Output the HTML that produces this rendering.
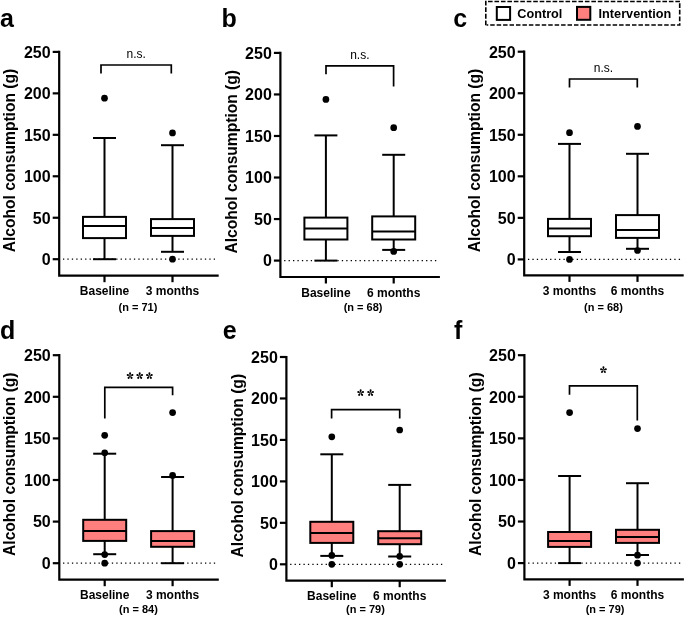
<!DOCTYPE html>
<html><head><meta charset="utf-8"><title>Alcohol consumption box plots</title>
<style>
html,body{margin:0;padding:0;background:#fff;}
body{width:685px;height:617px;overflow:hidden;}
svg{display:block;will-change:transform;}
text{font-family:"Liberation Sans",sans-serif;fill:#000;}
.pl{font-size:25px;font-weight:bold;}
.yl{font-size:15.6px;font-weight:bold;}
.yt{font-size:16px;font-weight:bold;}
.xt{font-size:12px;font-weight:bold;}
.nt{font-size:11px;font-weight:bold;}
.ns{font-size:12px;}
.st{font-size:22px;letter-spacing:2px;}
.lt{font-size:12.7px;font-weight:bold;}
.ax{stroke:#000;stroke-width:2.2;fill:none;}
.wh{stroke:#000;stroke-width:2.0;}
.bx{stroke:#000;stroke-width:2.0;}
.br{stroke:#000;stroke-width:1.7;fill:none;}
.dot0{stroke:#000;stroke-width:1.3;stroke-dasharray:1.3 3.135;}
.lg{fill:none;stroke:#000;stroke-width:1.6;}
circle{fill:#000;}
</style></head>
<body><svg width="685" height="617" viewBox="0 0 685 617">
<defs><g id="ast">
<path id="pt" d="M0,0.1 C-0.35,-0.7 -1.0,-1.75 -1.0,-2.45 A1.0,1.0 0 0 1 1.0,-2.45 C1.0,-1.75 0.35,-0.7 0,0.1 Z"/>
<use href="#pt" transform="rotate(77)"/><use href="#pt" transform="rotate(146) translate(0,-0.25)"/><use href="#pt" transform="rotate(214) translate(0,-0.25)"/><use href="#pt" transform="rotate(283)"/>
</g></defs>
<text class="pl" x="0" y="26.5">a</text>
<text class="yl" transform="translate(15.30,160.55) rotate(-90) scale(1,1.1)" text-anchor="middle">Alcohol consumption (g)</text>
<line class="dot0" x1="62.95" y1="259.20" x2="215.10" y2="259.20"/>
<line class="ax" x1="52.70" y1="259.20" x2="59.20" y2="259.20"/>
<text class="yt" x="50.60" y="265.00" text-anchor="end">0</text>
<line class="ax" x1="52.70" y1="217.74" x2="59.20" y2="217.74"/>
<text class="yt" x="50.60" y="223.54" text-anchor="end">50</text>
<line class="ax" x1="52.70" y1="176.28" x2="59.20" y2="176.28"/>
<text class="yt" x="50.60" y="182.08" text-anchor="end">100</text>
<line class="ax" x1="52.70" y1="134.82" x2="59.20" y2="134.82"/>
<text class="yt" x="50.60" y="140.62" text-anchor="end">150</text>
<line class="ax" x1="52.70" y1="93.36" x2="59.20" y2="93.36"/>
<text class="yt" x="50.60" y="99.16" text-anchor="end">200</text>
<line class="ax" x1="52.70" y1="51.90" x2="59.20" y2="51.90"/>
<text class="yt" x="50.60" y="57.70" text-anchor="end">250</text>
<path class="ax" d="M59.20,50.80 V275.70 H218.70" fill="none"/>
<line class="ax" x1="104.50" y1="275.70" x2="104.50" y2="282.20"/>
<line class="ax" x1="172.50" y1="275.70" x2="172.50" y2="282.20"/>
<text class="xt" x="104.50" y="295.30" text-anchor="middle">Baseline</text>
<text class="xt" x="172.50" y="295.30" text-anchor="middle">3 months</text>
<text class="nt" x="137.90" y="311.10" text-anchor="middle">(n = 71)</text>
<line class="wh" x1="104.50" y1="138.00" x2="104.50" y2="216.90"/>
<line class="wh" x1="104.50" y1="238.10" x2="104.50" y2="259.20"/>
<line class="wh" x1="93.00" y1="138.00" x2="116.00" y2="138.00"/>
<line class="wh" x1="93.00" y1="259.20" x2="116.00" y2="259.20"/>
<rect class="bx" x="83.00" y="216.90" width="43.00" height="21.20" fill="#fff"/>
<line class="wh" x1="83.00" y1="226.10" x2="126.00" y2="226.10"/>
<circle cx="104.50" cy="98.20" r="3.35"/>
<line class="wh" x1="172.50" y1="145.20" x2="172.50" y2="219.10"/>
<line class="wh" x1="172.50" y1="235.90" x2="172.50" y2="251.80"/>
<line class="wh" x1="161.00" y1="145.20" x2="184.00" y2="145.20"/>
<line class="wh" x1="161.00" y1="251.80" x2="184.00" y2="251.80"/>
<rect class="bx" x="151.00" y="219.10" width="43.00" height="16.80" fill="#fff"/>
<line class="wh" x1="151.00" y1="228.00" x2="194.00" y2="228.00"/>
<circle cx="172.50" cy="132.90" r="3.35"/>
<circle cx="172.50" cy="259.20" r="3.35"/>
<path class="br" d="M101.00,73.40 V65.00 H171.30 V73.40"/>
<text class="ns" transform="translate(136.15,57.80)" text-anchor="middle">n.s.</text>
<text class="pl" x="221.5" y="26.5">b</text>
<text class="yl" transform="translate(236.50,161.75) rotate(-90) scale(1,1.1)" text-anchor="middle">Alcohol consumption (g)</text>
<line class="dot0" x1="284.15" y1="260.60" x2="436.30" y2="260.60"/>
<line class="ax" x1="273.90" y1="260.60" x2="280.40" y2="260.60"/>
<text class="yt" x="271.80" y="266.40" text-anchor="end">0</text>
<line class="ax" x1="273.90" y1="219.06" x2="280.40" y2="219.06"/>
<text class="yt" x="271.80" y="224.86" text-anchor="end">50</text>
<line class="ax" x1="273.90" y1="177.52" x2="280.40" y2="177.52"/>
<text class="yt" x="271.80" y="183.32" text-anchor="end">100</text>
<line class="ax" x1="273.90" y1="135.98" x2="280.40" y2="135.98"/>
<text class="yt" x="271.80" y="141.78" text-anchor="end">150</text>
<line class="ax" x1="273.90" y1="94.44" x2="280.40" y2="94.44"/>
<text class="yt" x="271.80" y="100.24" text-anchor="end">200</text>
<line class="ax" x1="273.90" y1="52.90" x2="280.40" y2="52.90"/>
<text class="yt" x="271.80" y="58.70" text-anchor="end">250</text>
<path class="ax" d="M280.40,51.80 V277.00 H439.90" fill="none"/>
<line class="ax" x1="325.90" y1="277.00" x2="325.90" y2="283.50"/>
<line class="ax" x1="393.70" y1="277.00" x2="393.70" y2="283.50"/>
<text class="xt" x="325.90" y="296.60" text-anchor="middle">Baseline</text>
<text class="xt" x="393.70" y="296.60" text-anchor="middle">6 months</text>
<text class="nt" x="363.10" y="311.30" text-anchor="middle">(n = 68)</text>
<line class="wh" x1="325.90" y1="135.40" x2="325.90" y2="217.60"/>
<line class="wh" x1="325.90" y1="239.50" x2="325.90" y2="260.60"/>
<line class="wh" x1="314.40" y1="135.40" x2="337.40" y2="135.40"/>
<line class="wh" x1="314.40" y1="260.60" x2="337.40" y2="260.60"/>
<rect class="bx" x="304.40" y="217.60" width="43.00" height="21.90" fill="#fff"/>
<line class="wh" x1="304.40" y1="228.50" x2="347.40" y2="228.50"/>
<circle cx="325.90" cy="99.40" r="3.35"/>
<line class="wh" x1="393.70" y1="154.80" x2="393.70" y2="216.40"/>
<line class="wh" x1="393.70" y1="239.50" x2="393.70" y2="249.90"/>
<line class="wh" x1="382.20" y1="154.80" x2="405.20" y2="154.80"/>
<line class="wh" x1="382.20" y1="249.90" x2="405.20" y2="249.90"/>
<rect class="bx" x="372.20" y="216.40" width="43.00" height="23.10" fill="#fff"/>
<line class="wh" x1="372.20" y1="231.40" x2="415.20" y2="231.40"/>
<circle cx="393.70" cy="127.70" r="3.35"/>
<circle cx="393.70" cy="251.40" r="3.35"/>
<path class="br" d="M326.00,74.30 V65.90 H393.60 V86.40"/>
<text class="ns" transform="translate(359.80,59.00)" text-anchor="middle">n.s.</text>
<text class="pl" x="453.2" y="26.5">c</text>
<text class="yl" transform="translate(480.30,160.55) rotate(-90) scale(1,1.1)" text-anchor="middle">Alcohol consumption (g)</text>
<line class="dot0" x1="527.95" y1="259.40" x2="680.10" y2="259.40"/>
<line class="ax" x1="517.70" y1="259.40" x2="524.20" y2="259.40"/>
<text class="yt" x="515.60" y="265.20" text-anchor="end">0</text>
<line class="ax" x1="517.70" y1="217.86" x2="524.20" y2="217.86"/>
<text class="yt" x="515.60" y="223.66" text-anchor="end">50</text>
<line class="ax" x1="517.70" y1="176.32" x2="524.20" y2="176.32"/>
<text class="yt" x="515.60" y="182.12" text-anchor="end">100</text>
<line class="ax" x1="517.70" y1="134.78" x2="524.20" y2="134.78"/>
<text class="yt" x="515.60" y="140.58" text-anchor="end">150</text>
<line class="ax" x1="517.70" y1="93.24" x2="524.20" y2="93.24"/>
<text class="yt" x="515.60" y="99.04" text-anchor="end">200</text>
<line class="ax" x1="517.70" y1="51.70" x2="524.20" y2="51.70"/>
<text class="yt" x="515.60" y="57.50" text-anchor="end">250</text>
<path class="ax" d="M524.20,50.60 V275.40 H683.70" fill="none"/>
<line class="ax" x1="569.50" y1="275.40" x2="569.50" y2="281.90"/>
<line class="ax" x1="637.50" y1="275.40" x2="637.50" y2="281.90"/>
<text class="xt" x="569.50" y="295.00" text-anchor="middle">3 months</text>
<text class="xt" x="637.50" y="295.00" text-anchor="middle">6 months</text>
<text class="nt" x="603.40" y="311.10" text-anchor="middle">(n = 68)</text>
<line class="wh" x1="569.50" y1="143.90" x2="569.50" y2="218.90"/>
<line class="wh" x1="569.50" y1="236.20" x2="569.50" y2="252.00"/>
<line class="wh" x1="558.00" y1="143.90" x2="581.00" y2="143.90"/>
<line class="wh" x1="558.00" y1="252.00" x2="581.00" y2="252.00"/>
<rect class="bx" x="548.00" y="218.90" width="43.00" height="17.30" fill="#fff"/>
<line class="wh" x1="548.00" y1="228.60" x2="591.00" y2="228.60"/>
<circle cx="569.50" cy="132.70" r="3.35"/>
<circle cx="569.50" cy="259.40" r="3.35"/>
<line class="wh" x1="637.50" y1="153.80" x2="637.50" y2="215.10"/>
<line class="wh" x1="637.50" y1="237.90" x2="637.50" y2="248.80"/>
<line class="wh" x1="626.00" y1="153.80" x2="649.00" y2="153.80"/>
<line class="wh" x1="626.00" y1="248.80" x2="649.00" y2="248.80"/>
<rect class="bx" x="616.00" y="215.10" width="43.00" height="22.80" fill="#fff"/>
<line class="wh" x1="616.00" y1="229.90" x2="659.00" y2="229.90"/>
<circle cx="637.50" cy="126.40" r="3.35"/>
<circle cx="637.50" cy="250.50" r="3.35"/>
<path class="br" d="M569.50,87.40 V79.00 H637.30 V87.40"/>
<text class="ns" transform="translate(603.40,71.60)" text-anchor="middle">n.s.</text>
<text class="pl" x="0" y="338.5">d</text>
<text class="yl" transform="translate(15.40,464.20) rotate(-90) scale(1,1.1)" text-anchor="middle">Alcohol consumption (g)</text>
<line class="dot0" x1="63.05" y1="563.20" x2="215.20" y2="563.20"/>
<line class="ax" x1="52.80" y1="563.20" x2="59.30" y2="563.20"/>
<text class="yt" x="50.70" y="569.00" text-anchor="end">0</text>
<line class="ax" x1="52.80" y1="521.60" x2="59.30" y2="521.60"/>
<text class="yt" x="50.70" y="527.40" text-anchor="end">50</text>
<line class="ax" x1="52.80" y1="480.00" x2="59.30" y2="480.00"/>
<text class="yt" x="50.70" y="485.80" text-anchor="end">100</text>
<line class="ax" x1="52.80" y1="438.40" x2="59.30" y2="438.40"/>
<text class="yt" x="50.70" y="444.20" text-anchor="end">150</text>
<line class="ax" x1="52.80" y1="396.80" x2="59.30" y2="396.80"/>
<text class="yt" x="50.70" y="402.60" text-anchor="end">200</text>
<line class="ax" x1="52.80" y1="355.20" x2="59.30" y2="355.20"/>
<text class="yt" x="50.70" y="361.00" text-anchor="end">250</text>
<path class="ax" d="M59.30,354.10 V579.70 H218.80" fill="none"/>
<line class="ax" x1="104.70" y1="579.70" x2="104.70" y2="586.20"/>
<line class="ax" x1="172.60" y1="579.70" x2="172.60" y2="586.20"/>
<text class="xt" x="104.70" y="599.30" text-anchor="middle">Baseline</text>
<text class="xt" x="172.60" y="599.30" text-anchor="middle">3 months</text>
<text class="nt" x="138.40" y="612.60" text-anchor="middle">(n = 84)</text>
<line class="wh" x1="104.70" y1="453.70" x2="104.70" y2="519.80"/>
<line class="wh" x1="104.70" y1="540.90" x2="104.70" y2="554.20"/>
<line class="wh" x1="93.20" y1="453.70" x2="116.20" y2="453.70"/>
<line class="wh" x1="93.20" y1="554.20" x2="116.20" y2="554.20"/>
<rect class="bx" x="83.20" y="519.80" width="43.00" height="21.10" fill="#FF7F7F"/>
<line class="wh" x1="83.20" y1="531.00" x2="126.20" y2="531.00"/>
<circle cx="104.70" cy="435.30" r="3.35"/>
<circle cx="104.70" cy="452.80" r="3.35"/>
<circle cx="104.70" cy="554.60" r="3.35"/>
<circle cx="104.70" cy="563.20" r="3.35"/>
<line class="wh" x1="172.60" y1="477.00" x2="172.60" y2="531.10"/>
<line class="wh" x1="172.60" y1="546.80" x2="172.60" y2="563.20"/>
<line class="wh" x1="161.10" y1="477.00" x2="184.10" y2="477.00"/>
<line class="wh" x1="161.10" y1="563.20" x2="184.10" y2="563.20"/>
<rect class="bx" x="151.10" y="531.10" width="43.00" height="15.70" fill="#FF7F7F"/>
<line class="wh" x1="151.10" y1="541.00" x2="194.10" y2="541.00"/>
<circle cx="172.60" cy="412.60" r="3.35"/>
<circle cx="172.60" cy="475.40" r="3.35"/>
<path class="br" d="M104.80,418.50 V387.30 H172.60 V395.30"/>
<use href="#ast" transform="translate(130.07,375.60)"/>
<use href="#ast" transform="translate(139.70,375.60)"/>
<use href="#ast" transform="translate(149.40,375.60)"/>
<text class="pl" x="222.8" y="338.9">e</text>
<text class="yl" transform="translate(242.50,465.65) rotate(-90) scale(1,1.1)" text-anchor="middle">Alcohol consumption (g)</text>
<line class="dot0" x1="290.15" y1="564.30" x2="442.30" y2="564.30"/>
<line class="ax" x1="279.90" y1="564.30" x2="286.40" y2="564.30"/>
<text class="yt" x="277.80" y="570.10" text-anchor="end">0</text>
<line class="ax" x1="279.90" y1="522.84" x2="286.40" y2="522.84"/>
<text class="yt" x="277.80" y="528.64" text-anchor="end">50</text>
<line class="ax" x1="279.90" y1="481.38" x2="286.40" y2="481.38"/>
<text class="yt" x="277.80" y="487.18" text-anchor="end">100</text>
<line class="ax" x1="279.90" y1="439.92" x2="286.40" y2="439.92"/>
<text class="yt" x="277.80" y="445.72" text-anchor="end">150</text>
<line class="ax" x1="279.90" y1="398.46" x2="286.40" y2="398.46"/>
<text class="yt" x="277.80" y="404.26" text-anchor="end">200</text>
<line class="ax" x1="279.90" y1="357.00" x2="286.40" y2="357.00"/>
<text class="yt" x="277.80" y="362.80" text-anchor="end">250</text>
<path class="ax" d="M286.40,355.90 V580.70 H445.90" fill="none"/>
<line class="ax" x1="331.80" y1="580.70" x2="331.80" y2="587.20"/>
<line class="ax" x1="399.70" y1="580.70" x2="399.70" y2="587.20"/>
<text class="xt" x="331.80" y="600.30" text-anchor="middle">Baseline</text>
<text class="xt" x="399.70" y="600.30" text-anchor="middle">6 months</text>
<text class="nt" x="365.50" y="612.90" text-anchor="middle">(n = 79)</text>
<line class="wh" x1="331.80" y1="454.30" x2="331.80" y2="521.80"/>
<line class="wh" x1="331.80" y1="542.90" x2="331.80" y2="555.90"/>
<line class="wh" x1="320.30" y1="454.30" x2="343.30" y2="454.30"/>
<line class="wh" x1="320.30" y1="555.90" x2="343.30" y2="555.90"/>
<rect class="bx" x="310.30" y="521.80" width="43.00" height="21.10" fill="#FF7F7F"/>
<line class="wh" x1="310.30" y1="533.00" x2="353.30" y2="533.00"/>
<circle cx="331.80" cy="436.80" r="3.35"/>
<circle cx="331.80" cy="555.40" r="3.35"/>
<circle cx="331.80" cy="564.30" r="3.35"/>
<line class="wh" x1="399.70" y1="484.90" x2="399.70" y2="531.20"/>
<line class="wh" x1="399.70" y1="544.20" x2="399.70" y2="556.50"/>
<line class="wh" x1="388.20" y1="484.90" x2="411.20" y2="484.90"/>
<line class="wh" x1="388.20" y1="556.50" x2="411.20" y2="556.50"/>
<rect class="bx" x="378.20" y="531.20" width="43.00" height="13.00" fill="#FF7F7F"/>
<line class="wh" x1="378.20" y1="538.30" x2="421.20" y2="538.30"/>
<circle cx="399.70" cy="430.00" r="3.35"/>
<circle cx="399.70" cy="556.30" r="3.35"/>
<circle cx="399.70" cy="564.30" r="3.35"/>
<path class="br" d="M331.60,418.50 V409.60 H399.70 V418.50"/>
<use href="#ast" transform="translate(360.65,392.60)"/>
<use href="#ast" transform="translate(370.60,392.60)"/>
<text class="pl" x="454.0" y="338.5">f</text>
<text class="yl" transform="translate(480.50,464.15) rotate(-90) scale(1,1.1)" text-anchor="middle">Alcohol consumption (g)</text>
<line class="dot0" x1="528.15" y1="563.10" x2="680.30" y2="563.10"/>
<line class="ax" x1="517.90" y1="563.10" x2="524.40" y2="563.10"/>
<text class="yt" x="515.80" y="568.90" text-anchor="end">0</text>
<line class="ax" x1="517.90" y1="521.52" x2="524.40" y2="521.52"/>
<text class="yt" x="515.80" y="527.32" text-anchor="end">50</text>
<line class="ax" x1="517.90" y1="479.94" x2="524.40" y2="479.94"/>
<text class="yt" x="515.80" y="485.74" text-anchor="end">100</text>
<line class="ax" x1="517.90" y1="438.36" x2="524.40" y2="438.36"/>
<text class="yt" x="515.80" y="444.16" text-anchor="end">150</text>
<line class="ax" x1="517.90" y1="396.78" x2="524.40" y2="396.78"/>
<text class="yt" x="515.80" y="402.58" text-anchor="end">200</text>
<line class="ax" x1="517.90" y1="355.20" x2="524.40" y2="355.20"/>
<text class="yt" x="515.80" y="361.00" text-anchor="end">250</text>
<path class="ax" d="M524.40,354.10 V579.40 H683.90" fill="none"/>
<line class="ax" x1="569.60" y1="579.40" x2="569.60" y2="585.90"/>
<line class="ax" x1="637.50" y1="579.40" x2="637.50" y2="585.90"/>
<text class="xt" x="569.60" y="599.00" text-anchor="middle">3 months</text>
<text class="xt" x="637.50" y="599.00" text-anchor="middle">6 months</text>
<text class="nt" x="605.10" y="612.60" text-anchor="middle">(n = 79)</text>
<line class="wh" x1="569.60" y1="476.00" x2="569.60" y2="532.00"/>
<line class="wh" x1="569.60" y1="546.90" x2="569.60" y2="563.10"/>
<line class="wh" x1="558.10" y1="476.00" x2="581.10" y2="476.00"/>
<line class="wh" x1="558.10" y1="563.10" x2="581.10" y2="563.10"/>
<rect class="bx" x="548.10" y="532.00" width="43.00" height="14.90" fill="#FF7F7F"/>
<line class="wh" x1="548.10" y1="541.00" x2="591.10" y2="541.00"/>
<circle cx="569.60" cy="412.60" r="3.35"/>
<line class="wh" x1="637.50" y1="483.20" x2="637.50" y2="529.80"/>
<line class="wh" x1="637.50" y1="542.90" x2="637.50" y2="555.00"/>
<line class="wh" x1="626.00" y1="483.20" x2="649.00" y2="483.20"/>
<line class="wh" x1="626.00" y1="555.00" x2="649.00" y2="555.00"/>
<rect class="bx" x="616.00" y="529.80" width="43.00" height="13.10" fill="#FF7F7F"/>
<line class="wh" x1="616.00" y1="537.00" x2="659.00" y2="537.00"/>
<circle cx="637.50" cy="428.60" r="3.35"/>
<circle cx="637.50" cy="555.20" r="3.35"/>
<circle cx="637.50" cy="563.10" r="3.35"/>
<path class="br" d="M569.50,394.70 V385.80 H637.30 V420.60"/>
<use href="#ast" transform="translate(603.45,369.80)"/>
<line class="lg" x1="485.8" y1="0.75" x2="485.8" y2="25.85" stroke-dasharray="4.8 1.75"/>
<line class="lg" x1="486.6" y1="1.5" x2="680.5" y2="1.5" stroke-dasharray="4.6 1.86" stroke-dashoffset="5.06"/>
<line class="lg" x1="679.7" y1="2.3" x2="679.7" y2="25.85" stroke-dasharray="4.7 1.95" stroke-dashoffset="5.75"/>
<line class="lg" x1="486.6" y1="25.05" x2="678.9" y2="25.05" stroke-dasharray="4.5 1.945" stroke-dashoffset="2.85"/>
<rect class="bx" x="496.8" y="7.0" width="13.3" height="12.9" fill="#fff" stroke-width="1.8"/>
<text class="lt" x="517.3" y="17.5">Control</text>
<rect class="bx" x="577.0" y="6.9" width="13.3" height="12.9" fill="#FF7F7F" stroke-width="1.8"/>
<text class="lt" x="598.6" y="17.5">Intervention</text>
</svg></body></html>
